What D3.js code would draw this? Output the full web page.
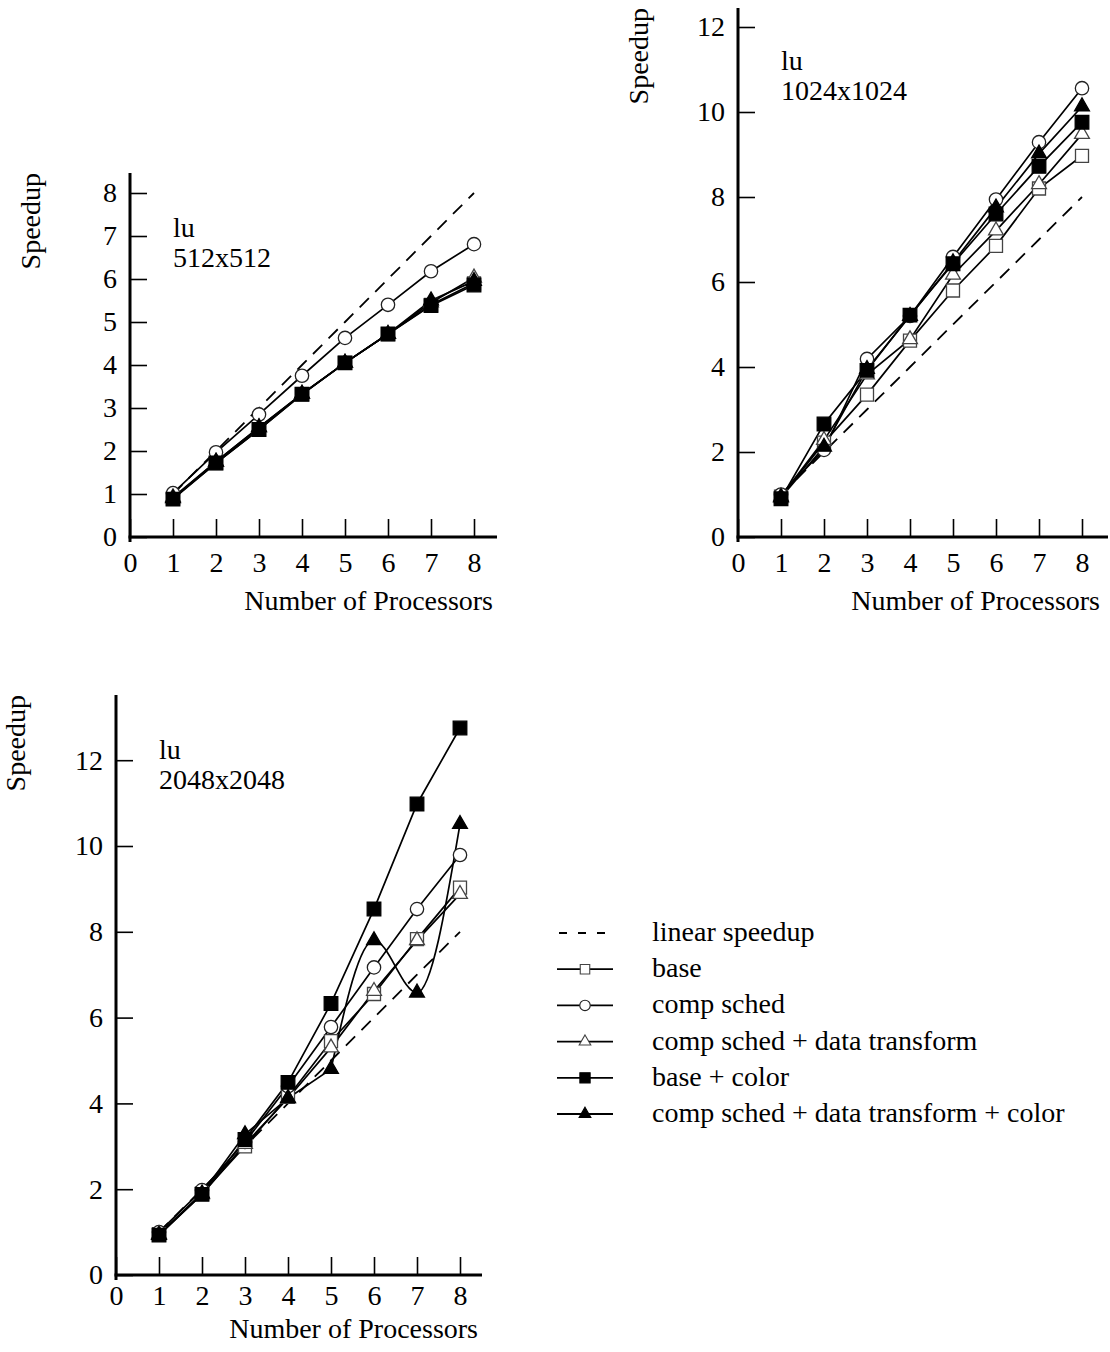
<!DOCTYPE html>
<html>
<head>
<meta charset="utf-8">
<script src="https://cdn.jsdelivr.net/npm/d3@7"></script>
<style>
  body { margin: 0; background: #fff; }
  svg { display: block; }
  text { font-family: "Liberation Serif", "Times New Roman", serif; fill: #000; }
</style>
</head>
<body>
<div id="canvas"></div>
<script>
"use strict"

let svgWidth = 1110;
let svgHeight = 1352;

/* Data */
let processors = [1, 2, 3, 4, 5, 6, 7, 8];
let xTicks = [0, 1, 2, 3, 4, 5, 6, 7, 8];
let yTicksSmall = [0, 1, 2, 3, 4, 5, 6, 7, 8];
let yTicksLarge = [0, 2, 4, 6, 8, 10, 12];
let linearSpeedup = [1, 2, 3, 4, 5, 6, 7, 8];

let seriesNames = ["base", "comp sched", "comp sched + data transform",
                   "base + color", "comp sched + data transform + color"];

// lu 512x512
let lu512Base     = [0.90, 1.72, 2.50, 3.32, 4.05, 4.72, 5.40, 5.90];
let lu512Comp     = [1.02, 1.97, 2.85, 3.75, 4.63, 5.40, 6.18, 6.81];
let lu512CompData = [0.92, 1.75, 2.55, 3.33, 4.05, 4.72, 5.45, 6.03];
let lu512Color    = [0.88, 1.72, 2.50, 3.32, 4.05, 4.72, 5.38, 5.86];
let lu512AllColor = [0.90, 1.75, 2.55, 3.33, 4.05, 4.72, 5.50, 5.95];

// lu 1024x1024
let lu1024Base     = [0.95, 2.22, 3.35, 4.62, 5.80, 6.85, 8.20, 8.97];
let lu1024Comp     = [1.00, 2.05, 4.19, 5.20, 6.59, 7.94, 9.29, 10.56];
let lu1024CompData = [0.95, 2.28, 3.82, 4.65, 6.17, 7.21, 8.30, 9.48];
let lu1024Color    = [0.90, 2.66, 3.92, 5.22, 6.43, 7.60, 8.72, 9.76];
let lu1024AllColor = [0.93, 2.12, 3.95, 5.20, 6.46, 7.75, 9.02, 10.13];

// lu 2048x2048
let lu2048Base     = [0.95, 1.90, 3.00, 4.15, 5.45, 6.55, 7.83, 9.03];
let lu2048Comp     = [1.00, 1.98, 3.10, 4.40, 5.78, 7.17, 8.53, 9.79];
let lu2048CompData = [0.95, 1.88, 3.05, 4.12, 5.30, 6.62, 7.80, 8.88];
let lu2048Color    = [0.93, 1.88, 3.16, 4.49, 6.33, 8.53, 10.98, 12.75];
let lu2048AllColor = [0.93, 1.90, 3.28, 4.12, 4.80, 7.80, 6.58, 10.51];

/* Marker styles, one per series */
let markerTypes = [d3.symbolSquare, d3.symbolCircle, d3.symbolTriangle, d3.symbolSquare, d3.symbolTriangle];
let markerFills = ["#fff", "#fff", "#fff", "#000", "#000"];
let markerStrokes = ["#444", "#222", "#444", "#000", "#000"];
let markerSizes = [169, 140, 95, 185, 95];
let legendSizes = [90, 85, 58, 105, 60];

let svg = d3.select("#canvas")
    .append("svg")
    .attr("width", svgWidth)
    .attr("height", svgHeight);

let panels = [
    {title: "512x512", series: [lu512Base, lu512Comp, lu512CompData, lu512Color, lu512AllColor],
     left: 130, bottom: 537, unitX: 43, yMax: 8, unitY: 43, axisTop: 173, axisRight: 497, xPad: 15,
     yTicks: yTicksSmall, labelY: 237, speedupX: 40, xLabelEnd: 493, xLabelY: 610, smoothFrom: -1},
    {title: "1024x1024", series: [lu1024Base, lu1024Comp, lu1024CompData, lu1024Color, lu1024AllColor],
     left: 738, bottom: 537, unitX: 43, yMax: 12, unitY: 42.5, axisTop: 8, axisRight: 1108, xPad: 15,
     yTicks: yTicksLarge, labelY: 70, speedupX: 648, xLabelEnd: 1100, xLabelY: 610, smoothFrom: -1},
    {title: "2048x2048", series: [lu2048Base, lu2048Comp, lu2048CompData, lu2048Color, lu2048AllColor],
     left: 116, bottom: 1275, unitX: 43, yMax: 12, unitY: 42.9, axisTop: 695, axisRight: 482, xPad: 10,
     yTicks: yTicksLarge, labelY: 759, speedupX: 25, xLabelEnd: 478, xLabelY: 1338, smoothFrom: 4}
];

function drawPanel(p) {
    let g = svg.append("g");

    let xScale = d3.scaleLinear()
        .domain([0, 8])
        .range([p.left, p.left + 8 * p.unitX]);

    let yScale = d3.scaleLinear()
        .domain([0, p.yMax])
        .range([p.bottom, p.bottom - p.yMax * p.unitY]);

    /* tick marks point inward */
    let yAxis = g.append("g")
        .attr("transform", "translate(" + p.left + ",0)")
        .call(d3.axisLeft(yScale).tickValues(p.yTicks).tickSize(-17).tickSizeOuter(0).tickPadding(13));

    let xAxis = g.append("g")
        .attr("transform", "translate(0," + p.bottom + ")")
        .call(d3.axisBottom(xScale).tickValues(xTicks).tickSize(-18).tickSizeOuter(0).tickPadding(p.xPad));

    [yAxis, xAxis].forEach(function (a) {
        a.select(".domain").remove();
        a.selectAll(".tick line").attr("stroke", "#000").attr("stroke-width", 1.6);
        a.selectAll(".tick text")
            .attr("font-size", 28)
            .attr("font-family", "Liberation Serif, Times New Roman, serif")
            .attr("fill", "#000");
    });

    /* heavy axis lines */
    g.append("line")
        .attr("x1", p.left).attr("x2", p.left)
        .attr("y1", p.axisTop).attr("y2", p.bottom + 5)
        .attr("stroke", "#000").attr("stroke-width", 3);

    g.append("line")
        .attr("x1", p.left - 1.5).attr("x2", p.axisRight)
        .attr("y1", p.bottom).attr("y2", p.bottom)
        .attr("stroke", "#000").attr("stroke-width", 3);

    /* linear speedup */
    let line = d3.line()
        .x(function (d) { return xScale(d[0]); })
        .y(function (d) { return yScale(d[1]); });

    let smoothLine = d3.line()
        .x(function (d) { return xScale(d[0]); })
        .y(function (d) { return yScale(d[1]); })
        .curve(d3.curveMonotoneX);

    g.append("path")
        .attr("d", line(d3.zip(processors, linearSpeedup)))
        .attr("fill", "none")
        .attr("stroke", "#000")
        .attr("stroke-width", 1.8)
        .attr("stroke-dasharray", "13,9");

    p.series.forEach(function (values, s) {
        let pts = d3.zip(processors, values);
        let d;
        // last series of the big panel is drawn with a smoothed tail
        if (s === 4 && p.smoothFrom >= 0) {
            d = line(pts.slice(0, p.smoothFrom + 1)) + smoothLine(pts.slice(p.smoothFrom));
        } else {
            d = line(pts);
        }
        g.append("path")
            .attr("d", d)
            .attr("fill", "none")
            .attr("stroke", "#000")
            .attr("stroke-width", 1.7);
    });

    p.series.forEach(function (values, s) {
        g.selectAll("path.marker" + s)
            .data(values)
            .join("path")
            .attr("class", "marker" + s)
            .attr("transform", function (d, i) {
                return "translate(" + xScale(processors[i]) + "," + yScale(d) + ")";
            })
            .attr("d", d3.symbol().type(markerTypes[s]).size(markerSizes[s]))
            .attr("fill", markerFills[s])
            .attr("stroke", markerStrokes[s])
            .attr("stroke-width", 1.3);
    });

    /* panel labels */
    g.append("text")
        .attr("x", xScale(1))
        .attr("y", p.labelY)
        .attr("font-size", 28)
        .text("lu");

    g.append("text")
        .attr("x", xScale(1))
        .attr("y", p.labelY + 30)
        .attr("font-size", 28)
        .text(p.title);

    g.append("text")
        .attr("transform", "translate(" + p.speedupX + "," + p.axisTop + ") rotate(-90)")
        .attr("text-anchor", "end")
        .attr("font-size", 28)
        .text("Speedup");

    g.append("text")
        .attr("x", p.xLabelEnd)
        .attr("y", p.xLabelY)
        .attr("text-anchor", "end")
        .attr("font-size", 28)
        .text("Number of Processors");
}

panels.forEach(drawPanel);

/* Legend */
let legendTop = 933;
let legendStep = 36.2;
let legendNames = ["linear speedup"].concat(seriesNames);

legendNames.forEach(function (name, i) {
    let ly = legendTop + i * legendStep;

    let l = svg.append("line")
        .attr("x1", 557).attr("x2", 613)
        .attr("y1", ly).attr("y2", ly)
        .attr("stroke", "#000")
        .attr("stroke-width", 1.8);

    if (i === 0) {
        l.attr("x1", 559).attr("stroke-dasharray", "8,11");
    } else {
        svg.append("path")
            .attr("transform", "translate(585," + ly + ")")
            .attr("d", d3.symbol().type(markerTypes[i - 1]).size(legendSizes[i - 1]))
            .attr("fill", markerFills[i - 1])
            .attr("stroke", markerStrokes[i - 1])
            .attr("stroke-width", 1.1);
    }

    svg.append("text")
        .attr("x", 652)
        .attr("y", ly + 8)
        .attr("font-size", 28)
        .text(name);
});
</script>
</body>
</html>
